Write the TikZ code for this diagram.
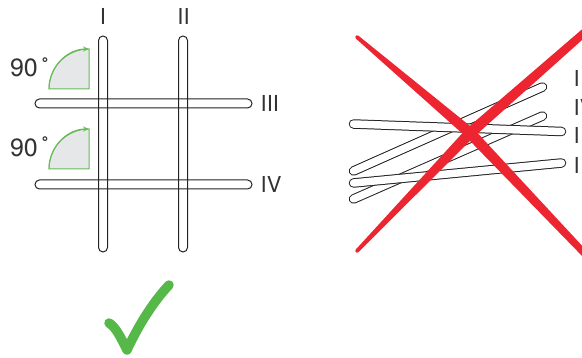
\documentclass[tikz,border=0pt]{standalone}
\usepackage{fontspec}
\setmainfont{TeX Gyre Heros}
\usetikzlibrary{arrows.meta}
\definecolor{txt}{HTML}{333333}
\definecolor{stk}{HTML}{222222}
\definecolor{agreen}{HTML}{66BB55}
\definecolor{cgreen}{HTML}{55B848}
\definecolor{xred}{HTML}{ED2530}
\definecolor{afill}{HTML}{E6E7E8}
\begin{document}
\begin{tikzpicture}[x=1pt,y=-1pt,
  lbl/.style={font=\fontsize{22}{22}\selectfont, text=txt, inner sep=0pt},
  deg/.style={font=\fontsize{25}{25}\selectfont, text=txt, inner sep=0pt},
  stick/.style={draw=stk, line width=1pt, rounded corners=4.5pt},
  tstick/.style={draw=stk, line width=1pt, double=white, double distance=7.5pt, line cap=round},
  angfill/.style={fill=afill, draw=agreen, line width=1pt},
  angarrow/.style={draw=agreen, line width=1pt, -{Stealth[length=6pt,width=5pt]}},
  xstroke/.style={fill=xred, draw=none},
  ]
\useasboundingbox (0,0) rectangle (582,358);
\clip (0,0) rectangle (582,358);

% ---- left: correct grid ----
\draw[stick] (98.5,36) rectangle (107.5,252);
\draw[stick] (178.5,36) rectangle (187.5,252);
\draw[stick] (35,99) rectangle (252,108);
\draw[stick] (35,180) rectangle (252,189);

\node[lbl] (l1) at (103,16.5) {I};
\node[lbl] (l2) at (183.5,16.5) {II};
\node[lbl,anchor=west] (l3) at (260.5,103.5) {III};
\node[lbl,anchor=west] (l4) at (260.5,184.5) {IV};

% angle marks
\coordinate (c1) at (89,89);
\path[angfill] (49,89) arc[start angle=180,end angle=270,radius=40] -- (c1) -- cycle;
\draw[angarrow] (49,89) arc[start angle=180,end angle=270,radius=40];
\coordinate (c2) at (89,169);
\path[angfill] (49,169) arc[start angle=180,end angle=270,radius=40] -- (c2) -- cycle;
\draw[angarrow] (49,169) arc[start angle=180,end angle=270,radius=40];

\node[deg] (n1) at (24,68) {90};
\node[deg,anchor=north] (d1) at (45,57.5) {˚};
\node[deg] (n2) at (24,147.5) {90};
\node[deg,anchor=north] (d2) at (45,137) {˚};

% check mark
\draw[cgreen, line width=9.5pt, line cap=round, line join=round]
  (109,323) .. controls (116,327) and (122,340) .. (127,350)
  .. controls (140,322) and (155,300) .. (169,285);

% ---- right: jumbled sticks ----
\coordinate (c1a) at (353.5,199); \coordinate (c1b) at (542.5,116);
\coordinate (b1a) at (353.5,171); \coordinate (b1b) at (542.5,87);
\coordinate (d1a) at (353.5,183); \coordinate (d1b) at (561.5,163);
\coordinate (a1a) at (353.5,124); \coordinate (a1b) at (561.5,131.5);
\draw[tstick] (c1a) -- (c1b);
\draw[tstick] (b1a) -- (b1b);
\draw[tstick] (d1a) -- (d1b);
\draw[tstick] (a1a) -- (a1b);

\node[lbl,anchor=west] (r1) at (573.5,78) {I};
\node[lbl,anchor=west] (r2) at (573.5,107) {IV};
\node[lbl,anchor=west] (r3) at (573.5,135) {I};
\node[lbl,anchor=west] (r4) at (573.5,165) {I};

% red cross (tapered strokes)
\fill[xstroke] (355.7,38.4) -- (466.2,137.0) -- (582.5,256.4) -- (587.5,251.6)
  -- (473.8,129.0) -- (358.3,35.6) -- cycle;
\fill[xstroke] (357,37) circle[radius=1.8];
\fill[xstroke] (358.4,252.3) -- (473.8,137.0) -- (587.6,35.0) -- (582.4,29.0)
  -- (466.2,129.0) -- (355.6,249.7) -- cycle;
\fill[xstroke] (357,251) circle[radius=1.8];
\end{tikzpicture}
\end{document}
